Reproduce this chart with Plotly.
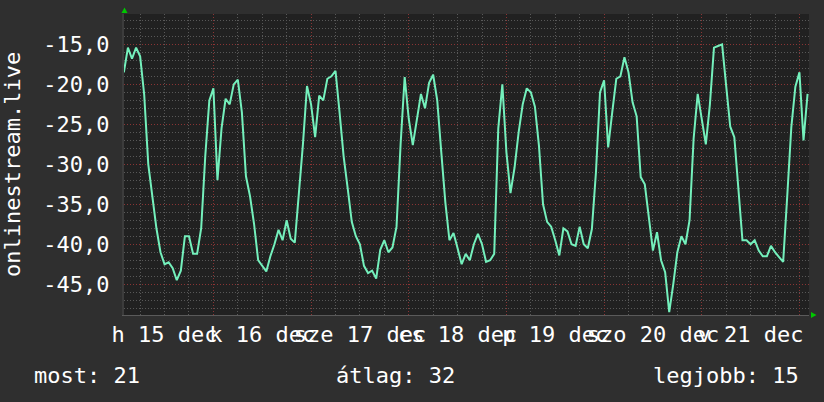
import pandas as pd
import plotly.graph_objects as go

# ---- data (hourly samples) ----
start_time = "2025-12-15 02:00"
values = [
    -18.5, -15.4, -16.8, -15.4, -16.5, -21.3, -30.0, -34.3, -38.0, -41.0,
    -42.5, -42.25, -43.0, -44.5, -43.3, -39.0, -39.0, -41.2, -41.2, -38.0,
    -29.0, -22.0, -20.5, -32.0, -25.5, -21.8, -22.5, -20.0, -19.4, -23.5,
    -31.5, -34.0, -37.5, -42.0, -42.7, -43.4, -41.5, -40.0, -38.2, -39.5,
    -37.0, -39.3, -39.8, -34.0, -27.5, -20.2, -22.5, -26.6, -21.4, -22.0,
    -19.3, -19.0, -18.3, -23.5, -29.0, -33.0, -37.2, -39.0, -40.0, -42.7,
    -43.6, -43.3, -44.3, -40.7, -39.5, -41.0, -40.4, -37.8, -27.5, -19.1,
    -24.3, -27.6, -24.5, -21.2, -23.0, -19.8, -18.8, -22.0, -28.5, -34.8,
    -39.5, -38.6, -40.5, -42.5, -41.2, -42.0, -40.0, -38.7, -40.0, -42.2,
    -42.0, -41.2, -25.5, -20.0, -28.5, -33.6, -30.4, -26.0, -22.5, -20.5,
    -21.0, -22.8, -27.7, -35.0, -37.2, -37.8, -39.5, -41.4, -38.0, -38.4,
    -40.0, -40.2, -37.8, -40.0, -40.5, -38.1, -31.0, -21.0, -19.5, -27.9,
    -23.5, -19.3, -19.0, -16.6, -18.5, -22.25, -24.0, -31.6, -32.5, -37.0,
    -40.8, -38.5, -42.0, -43.5, -48.5, -45.0, -41.0, -39.0, -40.0, -37.0,
    -26.8, -21.2, -24.5, -27.5, -22.5, -15.4, -15.2, -15.0, -20.2, -25.3,
    -26.6, -33.5, -39.5, -39.5, -40.0, -39.5, -40.8, -41.5, -41.5, -40.2,
    -41.0, -41.6, -42.2, -34.0, -25.4, -20.3, -18.5, -27.0, -21.2,
]
day_labels = ["h 15 dec", "k 16 dec", "sze 17 dec", "cs 18 dec",
              "p 19 dec", "szo 20 dec", "v 21 dec"]
day_starts = ["2025-12-15", "2025-12-16", "2025-12-17", "2025-12-18",
              "2025-12-19", "2025-12-20", "2025-12-21"]
y_tick_vals = [-45, -40, -35, -30, -25, -20, -15]
y_tick_text = ["-45,0", "-40,0", "-35,0", "-30,0", "-25,0", "-20,0", "-15,0"]
series_name = "onlinestream.live"
stat_labels = ["most: 21", "átlag: 32", "legjobb: 15"]

x_range = ["2025-12-15 02:02", "2025-12-22 02:21"]
y_range = [-48.85, -11.2]

times = pd.date_range(start_time, periods=len(values), freq="h")
noon_ticks = [pd.Timestamp(d) + pd.Timedelta(hours=12) for d in day_starts]

FONT = "DejaVu Sans Mono"
W, H = 824, 402
L, R, T, B = 124, 15, 14, 87
PW, PH = W - L - R, H - T - B

def px(x):
    return (x - L) / PW

def py(y):
    return (H - B - y) / PH

MAJOR = "#8a3434"
MINOR = "#585858"
DASH = "1px,2px"

fig = go.Figure()
fig.add_trace(go.Scatter(
    x=times, y=values, mode="lines",
    line=dict(color="#74f0bc", width=2),
    hoverinfo="skip", showlegend=False,
))
# carrier trace for the label axis (no visible marks)
fig.add_trace(go.Scatter(
    x=noon_ticks, y=[None] * len(noon_ticks), xaxis="x2", mode="lines",
    hoverinfo="skip", showlegend=False,
))

fig.update_layout(
    width=W, height=H,
    margin=dict(l=L, r=R, t=T, b=B, pad=0),
    paper_bgcolor="#2f2f2f",
    plot_bgcolor="#212121",
    font=dict(family=FONT, size=22, color="#ffffff"),
    showlegend=False,
    xaxis=dict(
        type="date", range=x_range,
        tickmode="linear", tick0=day_starts[0], dtick=86400000,
        showticklabels=False, ticks="",
        showgrid=True, gridcolor=MAJOR, griddash=DASH, gridwidth=1,
        minor=dict(tick0=day_starts[0], dtick=21600000, showgrid=True,
                   gridcolor=MINOR, griddash=DASH, gridwidth=1),
        zeroline=False, showline=True, linecolor="#5a5a5a", linewidth=1,
        fixedrange=True,
    ),
    xaxis2=dict(
        type="date", range=x_range, overlaying="x", anchor="y", side="bottom",
        tickmode="array", tickvals=noon_ticks, ticktext=day_labels,
        tickangle=0, showgrid=False, ticks="", zeroline=False,
        ticklabelstandoff=4, fixedrange=True,
        tickfont=dict(family=FONT, size=22, color="#ffffff"),
    ),
    yaxis=dict(
        range=y_range, tickmode="array", tickvals=y_tick_vals,
        ticktext=y_tick_text, ticks="",
        showgrid=True, gridcolor=MAJOR, griddash=DASH, gridwidth=1,
        minor=dict(tick0=-15, dtick=1, showgrid=True,
                   gridcolor=MINOR, griddash=DASH, gridwidth=1),
        zeroline=False, showline=True, linecolor="#3c3c3c", linewidth=2,
        ticklabelstandoff=8,
        tickfont=dict(family=FONT, size=22, color="#ffffff"),
        fixedrange=True,
    ),
)

# y-axis title
fig.add_annotation(
    text=series_name, textangle=-90, showarrow=False,
    xref="paper", yref="paper", x=px(12), y=py(165),
    xanchor="center", yanchor="middle",
    font=dict(family=FONT, size=22, color="#ffffff"),
)

# statistics line
stat_x = [32, 334, 651]
for lbl, sx in zip(stat_labels, stat_x):
    fig.add_annotation(
        text=lbl, showarrow=False, xref="paper", yref="paper",
        x=px(sx), y=py(375), xanchor="left", yanchor="middle",
        font=dict(family=FONT, size=22, color="#ffffff"),
    )

# green axis arrows
fig.add_shape(type="path", xref="paper", yref="paper",
              path=f"M {px(121.5)},{py(13)} L {px(127.5)},{py(13)} L {px(124.5)},{py(7.5)} Z",
              fillcolor="#00c800", line=dict(width=0))
fig.add_shape(type="path", xref="paper", yref="paper",
              path=f"M {px(811)},{py(312)} L {px(811)},{py(318)} L {px(816.5)},{py(315)} Z",
              fillcolor="#00c800", line=dict(width=0))

fig.write_html(
    "out.html",
    config={"displayModeBar": False},
    post_script="document.body.style.margin='0px';document.body.style.background='#2f2f2f';",
)
